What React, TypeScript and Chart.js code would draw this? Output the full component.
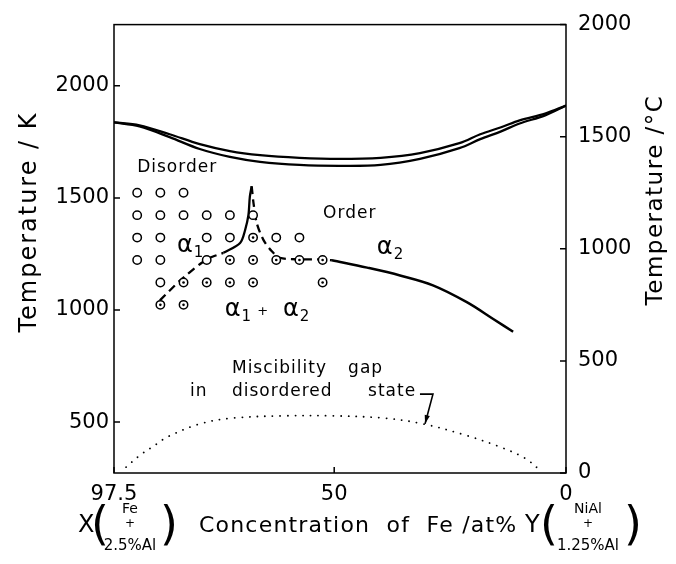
import React, { useEffect, useRef } from 'react';
import { Chart, registerables } from 'chart.js';
Chart.register(...registerables);

const FONT = '"DejaVu Sans", sans-serif';

// tick values
const xTicks = [97.5, 50, 0];
const kTicks = [500, 1000, 1500, 2000];
const cTicks = [0, 500, 1000, 1500, 2000];

// liquidus / solidus (at% Fe, K)
const meltX = [97.5, 92, 85.5, 79, 72.5, 66, 57.5, 49, 40, 31.5, 23, 18.5, 14, 10, 4.5, 0];
const liquidusK = [1837, 1824, 1784, 1740, 1709, 1691, 1679, 1674, 1679, 1700, 1744, 1784, 1815, 1846, 1876, 1912];
const solidusK = [1837, 1819, 1771, 1718, 1683, 1661, 1647, 1643, 1647, 1674, 1722, 1762, 1797, 1832, 1868, 1912];

// order-disorder boundary
const odDashLeftX = [87.6, 83.3, 79, 76.8, 73.9];
const odDashLeftK = [1043, 1131, 1204, 1233, 1255];
const odPeakX = [73.9, 70.3, 69.2, 68.5, 68.2, 67.8];
const odPeakK = [1255, 1299, 1358, 1424, 1505, 1552];
const odDashRightX = [67.8, 67.4, 66.7, 65.3, 63.5, 61.7, 57.4, 53, 50.5];
const odDashRightK = [1552, 1476, 1387, 1314, 1263, 1233, 1226, 1226, 1222];
const alpha2X = [50.5, 42.9, 35.8, 28.7, 21.4, 15.7, 11.4];
const alpha2K = [1222, 1189, 1154, 1110, 1035, 960, 903];

// miscibility gap in disordered state
const gapX = [94.9, 91.9, 88, 86.1, 79, 71.8, 61, 50.2, 39.4, 30.8, 21.4, 14.2, 8.85, 5.25];
const gapK = [299, 352, 406, 433, 492, 518, 528, 528, 518, 492, 440, 389, 339, 279];

// experimental points: open = disordered, dotted = ordered
const openX = [92.5, 87.5, 82.5, 92.5, 87.5, 82.5, 77.5, 72.5, 67.5, 92.5, 87.5, 77.5, 72.5, 62.5, 57.5, 92.5, 87.5, 77.5, 87.5];
const openK = [1523, 1523, 1523, 1423, 1423, 1423, 1423, 1423, 1423, 1323, 1323, 1323, 1323, 1323, 1323, 1223, 1223, 1223, 1123];
const dotX = [67.5, 72.5, 67.5, 62.5, 57.5, 52.5, 82.5, 77.5, 72.5, 67.5, 52.5, 87.5, 82.5];
const dotK = [1323, 1223, 1223, 1223, 1223, 1223, 1123, 1123, 1123, 1123, 1123, 1023, 1023];

// arrow pointing to the miscibility gap curve
const arrowX = [31.5, 28.7, 30.4];
const arrowK = [625, 625, 493];

const pts = (xs: number[], ys: number[]) => xs.map((x, i) => ({ x, y: ys[i] }));

function txt(ctx: CanvasRenderingContext2D, s: string, x: number, y: number, size: number, align: CanvasTextAlign = 'left', ls = '0px') {
  ctx.font = `${size}px ${FONT}`;
  (ctx as any).letterSpacing = ls;
  ctx.textAlign = align;
  ctx.textBaseline = 'middle';
  ctx.fillText(s, x, y);
  (ctx as any).letterSpacing = '0px';
}

function alpha(ctx: CanvasRenderingContext2D, x: number, y: number, sub: string) {
  ctx.font = `24px ${FONT}`;
  const w = ctx.measureText('α').width;
  txt(ctx, 'α', x, y, 24);
  txt(ctx, sub, x + w + 1, y + 7, 15);
}

const decor = {
  id: 'decor',
  afterDatasetsDraw(chart: any) {
    const { ctx, chartArea: a, scales } = chart;
    const xs = scales.x, ys = scales.y, yc = scales.y2;
    const P = (x: number, k: number) => [xs.getPixelForValue(x), ys.getPixelForValue(k)];
    ctx.save();
    ctx.strokeStyle = '#000';
    ctx.fillStyle = '#000';
    ctx.lineWidth = 1.5;
    ctx.strokeRect(a.left, a.top, a.right - a.left, a.bottom - a.top);
    ctx.beginPath();
    kTicks.forEach((v) => { const y = ys.getPixelForValue(v); ctx.moveTo(a.left, y); ctx.lineTo(a.left + 6, y); });
    cTicks.forEach((v) => { const y = yc.getPixelForValue(v); ctx.moveTo(a.right, y); ctx.lineTo(a.right - 6, y); });
    xTicks.forEach((v) => { const x = xs.getPixelForValue(v); ctx.moveTo(x, a.bottom); ctx.lineTo(x, a.bottom - 6); });
    ctx.stroke();

    // annotations
    let p = P(92.5, 1634); txt(ctx, 'Disorder', p[0], p[1], 17, 'left', '1px');
    p = P(52.4, 1431); txt(ctx, 'Order', p[0], p[1], 17, 'left', '1px');
    p = P(83.9, 1286); alpha(ctx, p[0], p[1], '1');
    p = P(40.8, 1277); alpha(ctx, p[0], p[1], '2');
    p = P(73.6, 1000); alpha(ctx, p[0], p[1], '1');
    p = P(65.4, 1000); txt(ctx, '+', p[0], p[1] + 2, 13, 'center');
    p = P(61.05, 1000); alpha(ctx, p[0], p[1], '2');
    p = P(72.05, 740); txt(ctx, 'Miscibility', p[0], p[1], 17, 'left', '1px');
    p = P(47.0, 740); txt(ctx, 'gap', p[0], p[1], 17, 'left', '1px');
    p = P(81.1, 634); txt(ctx, 'in', p[0], p[1], 17, 'left', '1px');
    p = P(72.05, 634); txt(ctx, 'disordered', p[0], p[1], 17, 'left', '1px');
    p = P(42.7, 634); txt(ctx, 'state', p[0], p[1], 17, 'left', '1px');

    // arrow
    const ap = arrowX.map((x, i) => P(x, arrowK[i]));
    ctx.lineWidth = 1.6;
    ctx.beginPath();
    ctx.moveTo(ap[0][0], ap[0][1]);
    ctx.lineTo(ap[1][0], ap[1][1]);
    ctx.lineTo(ap[2][0], ap[2][1]);
    ctx.stroke();
    const ang = Math.atan2(ap[2][1] - ap[1][1], ap[2][0] - ap[1][0]);
    ctx.beginPath();
    ctx.moveTo(ap[2][0], ap[2][1]);
    ctx.lineTo(ap[2][0] - 9 * Math.cos(ang - 0.3), ap[2][1] - 9 * Math.sin(ang - 0.3));
    ctx.lineTo(ap[2][0] - 9 * Math.cos(ang + 0.3), ap[2][1] - 9 * Math.sin(ang + 0.3));
    ctx.closePath();
    ctx.fill();

    // axis titles
    ctx.save();
    ctx.translate(30, 222);
    ctx.rotate(-Math.PI / 2);
    txt(ctx, 'Temperature / K', 0, 0, 24, 'center', '2px');
    ctx.restore();
    ctx.save();
    ctx.translate(656, 200);
    ctx.rotate(-Math.PI / 2);
    txt(ctx, 'Temperature /°C', 0, 0, 23, 'center', '1.5px');
    ctx.restore();

    const yb = a.bottom + 53;
    txt(ctx, 'X', 78, yb, 24);
    txt(ctx, '(', 91, yb + 1, 46);
    txt(ctx, 'Fe', 130, yb - 17, 14, 'center');
    txt(ctx, '+', 130, yb - 2, 12, 'center');
    txt(ctx, '2.5%Al', 130, yb + 20, 15, 'center');
    txt(ctx, ')', 160, yb + 1, 46);
    txt(ctx, 'Concentration  of  Fe /at%', 199, yb, 22, 'left', '1.2px');
    txt(ctx, 'Y', 525, yb, 24);
    txt(ctx, '(', 540, yb + 1, 46);
    txt(ctx, 'NiAl', 588, yb - 17, 14, 'center');
    txt(ctx, '+', 588, yb - 2, 12, 'center');
    txt(ctx, '1.25%Al', 588, yb + 20, 15, 'center');
    txt(ctx, ')', 624, yb + 1, 46);
    ctx.restore();
  },
};

export default function App() {
  const ref = useRef<HTMLCanvasElement>(null);
  useEffect(() => {
    document.body.style.margin = '0';
    const black = '#000';
    const line = (xs: number[], ys: number[], extra: any = {}) => ({
      data: pts(xs, ys),
      borderColor: black,
      borderWidth: 2.3,
      pointRadius: 0,
      tension: 0.35,
      fill: false,
      ...extra,
    });
    const tickFont = { family: FONT, size: 21 };
    const plain = (v: any) => String(v);
    const chart = new Chart(ref.current as HTMLCanvasElement, {
      type: 'line',
      data: {
        datasets: [
          { data: pts(dotX, dotK), showLine: false, pointRadius: 1.3, pointBackgroundColor: black, pointBorderWidth: 0, borderColor: black },
          { data: pts(openX.concat(dotX), openK.concat(dotK)), showLine: false, pointRadius: 4.2, pointBackgroundColor: '#fff', pointBorderColor: black, pointBorderWidth: 1.5 },
          line(meltX, liquidusK),
          line(meltX, solidusK),
          line(odDashLeftX, odDashLeftK, { borderDash: [8, 5], tension: 0.2 }),
          line(odPeakX, odPeakK, { tension: 0.3 }),
          line(odDashRightX, odDashRightK, { borderDash: [8, 5], tension: 0.3 }),
          line(alpha2X, alpha2K, { borderWidth: 2.5 }),
          line(gapX, gapK, { borderDash: [0.1, 7.5], borderCapStyle: 'round', borderWidth: 1.8 }),
        ],
      },
      options: {
        animation: false,
        responsive: false,
        devicePixelRatio: 1,
        layout: { padding: { top: 19, left: 0, right: 0, bottom: 0 } },
        plugins: { legend: { display: false }, tooltip: { enabled: false } },
        scales: {
          x: {
            type: 'linear', reverse: true, min: 0, max: 97.5,
            afterBuildTicks: (s: any) => { s.ticks = xTicks.map((v) => ({ value: v })); },
            afterFit: (s: any) => { s.height = 91; },
            ticks: { font: tickFont, color: black, padding: 9, maxRotation: 0, callback: plain },
            grid: { display: false, drawTicks: false },
            border: { display: false },
          },
          y: {
            position: 'left', min: 273, max: 2273,
            afterBuildTicks: (s: any) => { s.ticks = kTicks.map((v) => ({ value: v })); },
            afterFit: (s: any) => { s.width = 114; },
            ticks: { font: tickFont, color: black, padding: 5, callback: plain },
            grid: { display: false, drawTicks: false },
            border: { display: false },
          },
          y2: {
            position: 'right', min: 0, max: 2000,
            afterBuildTicks: (s: any) => { s.ticks = cTicks.map((v) => ({ value: v })); },
            afterFit: (s: any) => { s.width = 110; },
            ticks: { font: tickFont, color: black, padding: 12, callback: plain },
            grid: { display: false, drawTicks: false },
            border: { display: false },
          },
        },
      },
      plugins: [decor],
    } as any);
    return () => chart.destroy();
  }, []);
  return <canvas ref={ref} width={676} height={564} style={{ display: 'block' }} />;
}
